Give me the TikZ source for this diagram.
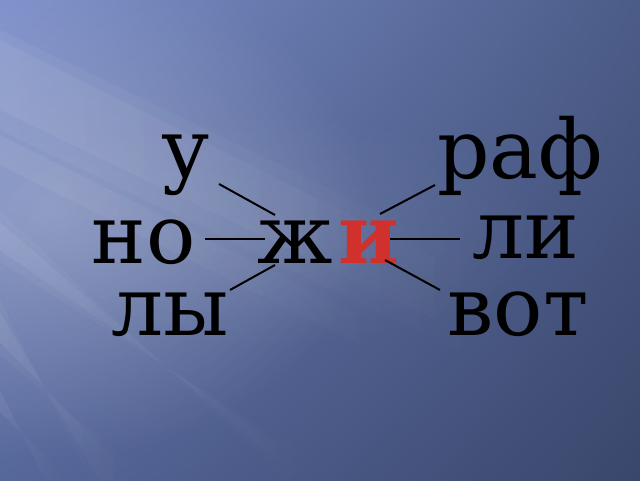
\documentclass[tikz,border=0pt]{standalone}
\usepackage{fontspec}
\setmainfont{DejaVu Serif}
\usepackage{tikz}
\usetikzlibrary{calc,fadings,shadings}

\definecolor{bgTL}{HTML}{7C8FCA}
\definecolor{bgTR}{HTML}{4C5C88}
\definecolor{bgBL}{HTML}{56679A}
\definecolor{bgBR}{HTML}{3A476C}
\definecolor{vowelred}{HTML}{D0312D}
\tikzfading[name=fade out right, left color=transparent!0, right color=transparent!100]
\tikzfading[name=glow fade, inner color=transparent!0, outer color=transparent!100]

\begin{document}
\begin{tikzpicture}[x=1pt,y=-1pt,
  word/.style={inner sep=0pt,anchor=base,font=\fontsize{82}{90}\selectfont},
  link/.style={line width=2pt,black},
  ray/.style={white,path fading=fade out right}]
  % Background
  \useasboundingbox (0,0) rectangle (640,480);
  \shade[upper left=bgTL,upper right=bgTR,lower left=bgBL,lower right=bgBR] (0,0) rectangle (640,480);
  % Glow on the left
  \fill[white,opacity=.25,path fading=glow fade] (50,210) ellipse (320 and 250);
  \fill[white,opacity=.08,path fading=glow fade] (260,230) ellipse (300 and 120);
  % Light rays
  \foreach \op in {.035,.035} {
    \fill[ray,opacity=\op] (0,40) -- (0,110) -- (520,360) -- (520,300) -- cycle;
    \fill[ray,opacity=\op] (0,135) -- (0,165) -- (430,380) -- (430,350) -- cycle;
    \fill[ray,opacity=\op] (0,222) -- (0,250) -- (330,480) -- (298,480) -- cycle;
    \fill[ray,opacity=\op] (0,312) -- (0,342) -- (135,480) -- (100,480) -- cycle;
    \fill[ray,opacity=\op] (0,390) -- (0,412) -- (70,480) -- (45,480) -- cycle;
  }
  \fill[ray,opacity=.05] (0,30) -- (0,130) -- (520,380) -- (520,280) -- cycle;
  \fill[ray,opacity=.04] (0,210) -- (0,262) -- (345,480) -- (285,480) -- cycle;
  \fill[ray,opacity=.04] (0,300) -- (0,355) -- (150,480) -- (90,480) -- cycle;
  % Centre word
  \node[word] (zh) at (295,263) {ж};
  \node[word,font=\fontsize{82}{90}\selectfont\bfseries,text=vowelred] (i) at (369,263) {и};
  % Left words
  \node[word] (u) at (186,177) {у};
  \node[word] (no) at (143.5,263) {но};
  \node[word] (ly) at (170,335) {лы};
  % Right words
  \node[word] (raf) at (520,178) {раф};
  \node[word] (li) at (525.5,258) {ли};
  \node[word] (vot) at (518,335) {вот};
  % Links to the left
  \draw[link] ($(u.base)+(33,7)$) -- ($(zh.base)+(-20,-48)$);
  \draw[link] ($(no.base)+(61.5,-24)$) -- ($(zh.base)+(-30,-24)$);
  \draw[link] ($(ly.base)+(60,-45)$) -- ($(zh.base)+(-20,2)$);
  % Links to the right
  \draw[link] ($(i.base)+(11,-49)$) -- ($(raf.base)+(-85,7)$);
  \draw[link] ($(i.base)+(21,-24)$) -- ($(li.base)+(-65.5,-19)$);
  \draw[link] ($(i.base)+(16,-3)$) -- ($(vot.base)+(-78,-45)$);
\end{tikzpicture}
\end{document}
